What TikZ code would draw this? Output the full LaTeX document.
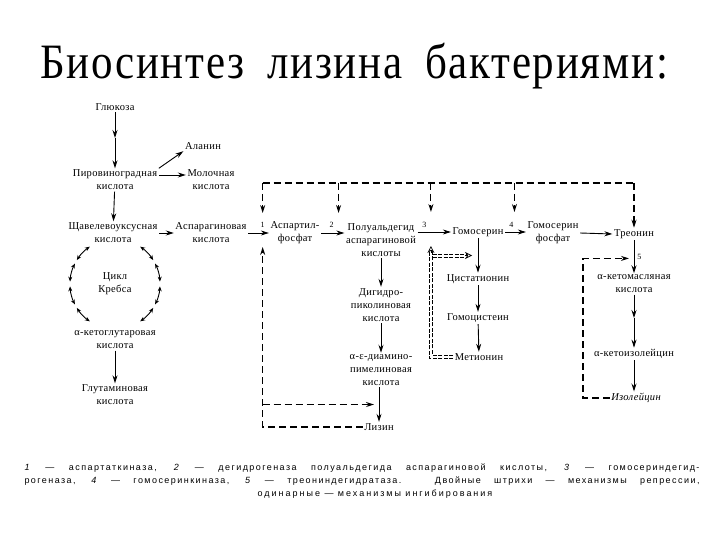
\documentclass[tikz,border=0pt]{standalone}
\usepackage{fontspec}
\setmainfont{Liberation Serif}
\newfontfamily\titlefont[LetterSpace=4]{Liberation Serif}
\newfontfamily\lblfont[LetterSpace=3]{Liberation Serif}
\newfontfamily\capfont[LetterSpace=16]{Liberation Sans}
\newfontfamily\capwide[LetterSpace=22]{Liberation Sans}
\usetikzlibrary{arrows.meta}
\tikzset{
  lbl/.style={font=\lblfont\fontsize{10.5}{13}\selectfont, align=center, inner sep=1.5pt},
  num/.style={font=\fontsize{8}{8}\selectfont, inner sep=0pt},
  capt/.style={font=\capfont\fontsize{9}{13}\selectfont, inner sep=0pt},
  fw/.style={-{Stealth[length=8pt,width=5pt]}, line width=0.9pt},
  dsh/.style={line width=1.1pt, dash pattern=on 7pt off 4pt},
  fb/.style={dsh, -{Stealth[length=8pt,width=5pt]}},
  rl/.style={line width=0.7pt, dash pattern=on 4pt off 1.5pt},
  rtip/.style={-{Stealth[open,length=7pt,width=7pt]}, line width=0.7pt},
  cyc/.style={{Stealth[length=5pt,width=4pt]}-{Stealth[length=5pt,width=4pt]}, line width=0.9pt}
}

\begin{document}
\begin{tikzpicture}[x=1pt, y=-1pt]
\useasboundingbox (0,0) rectangle (720,540);
\node (title) at (354,66) {\titlefont\fontsize{43}{43}\selectfont
  \scalebox{1}[1.15]{\makebox[628pt][s]{Биосинтез лизина бактериями:}}};

% left column
\node[lbl] (glu) at (115,107) {Глюкоза};
\coordinate (glumid) at (115,138);
\node[lbl] (pyr) at (115,180) {Пировиноградная\\кислота};
\node[lbl] (ala) at (203,146) {Аланин};
\node[lbl] (lac) at (211,180) {Молочная\\кислота};
\node[lbl] (oxa) at (113,233) {Щавелевоуксусная\\кислота};
\node[lbl] (krebs) at (115,284) {Цикл\\Кребса};
\node[lbl] (akg) at (115,340) {α-кетоглутаровая\\кислота};
\node[lbl] (glut) at (115,395) {Глутаминовая\\кислота};

\draw[fw] (glu) -- (glumid);
\draw[fw] (glumid) -- (pyr);
\draw[fw] (pyr.north east) -- (ala.south west);
\draw[fw] ([yshift=5pt]pyr.east) -- ([yshift=5pt]lac.west);
\draw[fw] (pyr) -- (oxa);
\draw[fw] (akg) -- (glut);
\foreach \a/\b in {56/32,27/3,-3/-27,-32/-56,124/148,153/177,183/207,212/236}
  \draw[cyc] ([shift={(\a:45pt)}]krebs.center) arc[start angle=\a, end angle=\b, radius=45pt];

% main row
\node[lbl] (asp) at (211,233) {Аспарагиновая\\кислота};
\node[lbl] (aspp) at (295,233) {Аспартил-\\фосфат};
\node[lbl] (sald) at (381,240) {Полуальдегид\\аспарагиновой\\кислоты};
\node[lbl] (hser) at (478,232) {Гомосерин};
\node[lbl] (hserp) at (553,233) {Гомосерин\\фосфат};
\node[lbl] (thr) at (634,234) {Треонин};

\draw[fw] (oxa) -- (asp);
\draw[fw] (asp.east) -- node[num, pos=0.7, above=5pt]{1} coordinate[pos=0.7] (s1) (aspp.west);
\draw[fw] (aspp.east) -- node[num, pos=0.45, above=5pt]{2} coordinate[pos=0.75] (s2)
  (aspp.east -| sald.west);
\draw[fw] (sald.east |- hser.west) -- node[num, pos=0.2, above=4pt]{3} coordinate[pos=0.4] (s3)
  (hser.west);
\draw[fw] (hser.east) -- node[num, pos=0.3, above=4pt]{4} coordinate[pos=0.45] (s4)
  (hserp.west |- hser.east);
\draw[fw] (hserp.east) -- (thr.west);

% lysine branch
\node[lbl] (dhp) at (381,305) {Дигидро-\\пиколиновая\\кислота};
\node[lbl] (dap) at (381,370) {α-ε-диамино-\\пимелиновая\\кислота};
\node[lbl] (lys) at (379,427) {Лизин};
\draw[fw] (sald) -- (dhp);
\draw[fw] (dhp) -- (dap);
\draw[fw] (dap.south -| lys.north) -- coordinate[pos=0.5] (s6) (lys.north);

% methionine branch
\node[lbl] (cyst) at (478,279) {Цистатионин};
\node[lbl] (hcys) at (478,318) {Гомоцистеин};
\node[lbl] (met) at (479,357) {Метионин};
\draw[fw] (hser) -- coordinate[pos=0.5] (s7) (cyst);
\draw[fw] (cyst) -- (hcys);
\draw[fw] (hcys) -- (met);

% isoleucine branch
\node[lbl] (kbut) at (634,284) {α-кетомасляная\\кислота};
\coordinate (kmid) at (634,318);
\node[lbl] (kile) at (634,354) {α-кетоизолейцин};
\node[lbl] (ile) at (636,398) {\itshape Изолейцин};
\draw[fw] (thr.south) -- node[num, right=3pt]{5} coordinate[pos=0.55] (s5) (kbut.north);
\draw[fw] (kbut.south) -- (kmid);
\draw[fw] (kmid) -- (kile.north);
\draw[fw] (kile.south) -- (kile.south |- ile.north);

% feedback, single dashes
\coordinate (topl) at (0,183);
\draw[dsh] (s1 |- topl) -- (thr.north |- topl);
\foreach \s in {s1,s2,s3,s4}
  \draw[fb] (\s |- topl) -- ([yshift=20pt]\s);
\draw[fb] (thr.north |- topl) -- (thr.north);
\draw[fb] (lys.west) -| ([yshift=-14pt]s1);
\draw[fb] (s1 |- s6) -- ([xshift=-5pt]s6);
\draw[fb] (ile.west) -| ([xshift=-51pt]s5) -- ([xshift=-5pt]s5);

% repression, double dashes
\coordinate (m1) at ([yshift=-14pt]s3);
\coordinate (m2) at ([xshift=-6pt]s7);
\coordinate (m3) at (s3 |- s7);
\draw[rl] ([yshift=1.6pt]met.west) -| ([xshift=1.6pt,yshift=-6pt]m1);
\draw[rl] ([yshift=-1.6pt]met.west) -| ([xshift=-1.6pt,yshift=-6pt]m1);
\draw[rtip] ([yshift=-7pt]m1) -- (m1);
\draw[rl] ([xshift=1.6pt,yshift=1.6pt]m3) -- ([xshift=-6pt,yshift=1.6pt]m2);
\draw[rl] ([xshift=1.6pt,yshift=-1.6pt]m3) -- ([xshift=-6pt,yshift=-1.6pt]m2);
\draw[rtip] ([xshift=-7pt]m2) -- (m2);

% caption
\node[capt] (cap1) at (362,468) {\makebox[675pt][s]{\textit{1} — аспартаткиназа, \textit{2} — дегидрогеназа полуальдегида аспарагиновой кислоты, \textit{3} — гомосериндегид-}};
\node[capt] (cap2) at (362,481) {\makebox[675pt][s]{рогеназа, \textit{4} — гомосеринкиназа, \textit{5} — треониндегидратаза. Двойные штрихи — механизмы репрессии,}};
\node[capt, font=\capwide\fontsize{9}{13}\selectfont] (cap3) at (375,494) {одинарные — механизмы ингибирования};
\end{tikzpicture}
\end{document}
